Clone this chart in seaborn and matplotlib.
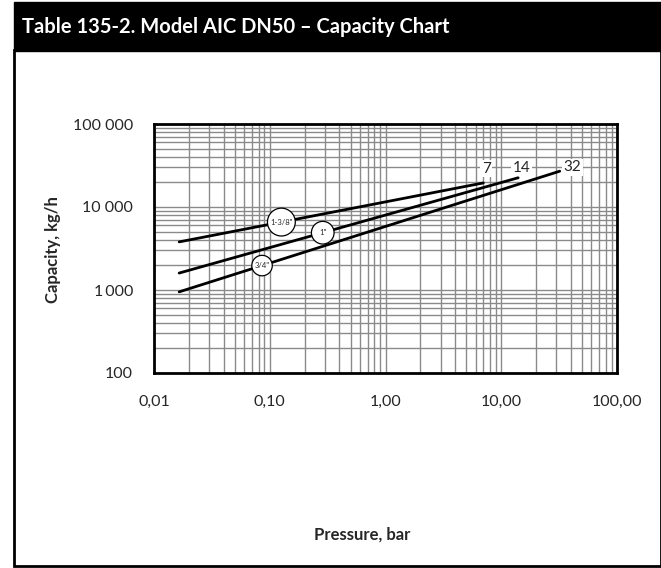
import matplotlib
matplotlib.use("Agg")
import matplotlib.pyplot as plt
from matplotlib.patches import Rectangle
from matplotlib.ticker import FixedLocator, LogLocator, NullFormatter
import seaborn as sns
import pandas as pd
import numpy as np

# ---- data ----
sizes = ['1-3/8"', '1"', '3/4"']
pressure_start = [0.0165, 0.0165, 0.0165]
pressure_end = [7, 14, 32]
capacity_start = [3800, 1600, 950]
capacity_end = [19500, 22500, 27000]
end_labels = ["7", "14", "32"]
badge_pressure = [0.126, 0.287, 0.0858]

x_ticks = [0.01, 0.1, 1, 10, 100]
x_ticklabels = ["0,01", "0,10", "1,00", "10,00", "100,00"]
y_ticks = [100, 1000, 10000, 100000]
y_ticklabels = ["100", "1\u2009000", "10 000", "100 000"]

title = "Table 135-2. Model AIC DN50 \u2013 Capacity Chart"
xlabel = "Pressure, bar"
ylabel = "Capacity, kg/h"

rows = []
for s, p0, p1, c0, c1 in zip(sizes, pressure_start, pressure_end, capacity_start, capacity_end):
    rows.append({"size": s, "pressure": p0, "capacity": c0})
    rows.append({"size": s, "pressure": p1, "capacity": c1})
df = pd.DataFrame(rows)

sns.set_style("white")
plt.rcParams["font.family"] = ["Lato", "DejaVu Sans"]

W, H = 661, 568
fig = plt.figure(figsize=(W / 100, H / 100), dpi=100)

# title bar
fig.patches.append(Rectangle((14 / W, 1 - 51 / H), (W - 14) / W, 49 / H, transform=fig.transFigure,
                             facecolor="black", edgecolor="black", zorder=0))
fig.text(22 / W, 1 - 27 / H, title, color="white", fontsize=14.5, fontweight="bold",
         va="center", ha="left")
# outer frame
fig.patches.append(Rectangle((14 / W, 2 / H), (W - 14) / W, (H - 52) / H, transform=fig.transFigure,
                             facecolor="none", edgecolor="black", linewidth=2, zorder=1))

ax = fig.add_axes([154 / W, 1 - 373 / H, (617 - 154) / W, (373 - 124) / H])
ax.set_xscale("log")
ax.set_yscale("log")
ax.set_xlim(0.01, 100)
ax.set_ylim(100, 100000)

sns.lineplot(data=df, x="pressure", y="capacity", units="size", estimator=None,
             color="black", linewidth=2, ax=ax, legend=False, zorder=3)

# grid
ax.xaxis.set_major_locator(FixedLocator(x_ticks))
ax.xaxis.set_minor_locator(LogLocator(base=10, subs=np.arange(2, 10)))
ax.yaxis.set_major_locator(FixedLocator(y_ticks))
ax.yaxis.set_minor_locator(LogLocator(base=10, subs=np.arange(2, 10)))
ax.xaxis.set_minor_formatter(NullFormatter())
ax.yaxis.set_minor_formatter(NullFormatter())
ax.set_xticklabels(x_ticklabels)
ax.set_yticklabels(y_ticklabels)
ax.grid(True, which="both", color="#8a8a8a", linewidth=1.0, zorder=1)
ax.set_axisbelow(True)
ax.tick_params(axis="both", which="both", length=0)
ax.tick_params(axis="x", pad=16, labelsize=11.5)
ax.tick_params(axis="y", pad=15, labelsize=11.5)
for sp in ax.spines.values():
    sp.set_color("black")
    sp.set_linewidth(2)
    sp.set_visible(True)

ax.set_xlabel("")
ax.set_ylabel("")
fig.text(362 / W, 1 - 535 / H, xlabel, fontsize=12, fontweight="bold", ha="center", va="center")
fig.text(53 / W, 1 - 250 / H, ylabel, fontsize=12, fontweight="bold", ha="center", va="center",
         rotation=90)

# circle badges on lines
for s, p0, p1, c0, c1, bp in zip(sizes, pressure_start, pressure_end, capacity_start, capacity_end, badge_pressure):
    k = np.log10(c1 / c0) / np.log10(p1 / p0)
    bc = c0 * (bp / p0) ** k
    ax.text(bp, bc, s, fontsize=5.5, ha="center", va="center", zorder=5,
            bbox=dict(boxstyle="circle,pad=0.35" if len(s) > 2 else "circle,pad=1.0",
                      fc="white", ec="black", lw=0.9))

# end labels, sitting just right of / above each line end
label_offsets = [(3, 14), (3, 10), (13, 4)]
for p1, c1, lab, off in zip(pressure_end, capacity_end, end_labels, label_offsets):
    ax.annotate(lab, (p1, c1), xytext=off, textcoords="offset pixels", fontsize=11,
                ha="center", va="center", zorder=5,
                bbox=dict(boxstyle="square,pad=0.1", fc="white", ec="none"))

fig.savefig("out.png", dpi=100)
